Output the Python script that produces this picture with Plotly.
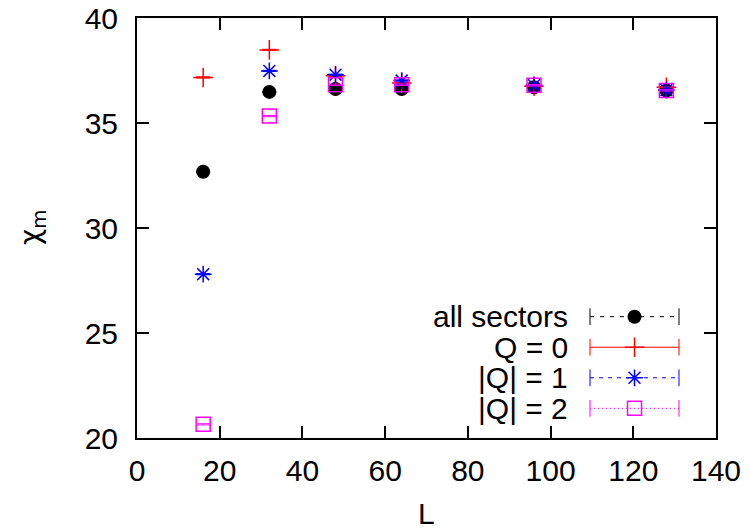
import plotly.graph_objects as go

# ---- data ----
L = [16, 32, 48, 64, 96, 128]
chi_all = [32.68, 36.48, 36.62, 36.62, 36.70, 36.55]
chi_q0 = [37.17, 38.48, 37.25, 36.90, 36.75, 36.70]
chi_q1 = [27.80, 37.48, 37.30, 37.02, 36.80, 36.57]
chi_q2 = [20.65, 35.33, 36.82, 36.82, 36.80, 36.55]
err_all = [0.03, 0.03, 0.03, 0.03, 0.03, 0.03]
err_q0 = [0.03, 0.03, 0.03, 0.03, 0.03, 0.03]
err_q1 = [0.03, 0.03, 0.03, 0.03, 0.03, 0.03]
err_q2 = [0.03, 0.03, 0.03, 0.03, 0.03, 0.03]

names = ["all sectors", "Q = 0", "|Q| = 1", "|Q| = 2"]
colors = ["#000000", "#ff0000", "#0000ff", "#ff00ff"]
symbols = ["circle", "cross-thin-open", "asterisk-open", "square-open"]
dashes = ["4px,6px", "solid", "4px,5px", "1px,3px"]
series = [chi_all, chi_q0, chi_q1, chi_q2]
errors = [err_all, err_q0, err_q1, err_q2]

x_ticks = [0, 20, 40, 60, 80, 100, 120, 140]
y_ticks = [20, 25, 30, 35, 40]

FONT = "Liberation Sans, Arial, sans-serif"
FS = 30

fig = go.Figure()

for i in range(4):
    mk = dict(symbol=symbols[i], size=14, color=colors[i])
    if i > 0:
        mk["line"] = dict(color=colors[i], width=1.5)
    fig.add_trace(go.Scatter(
        x=L, y=series[i], mode="markers", marker=mk, showlegend=False,
        error_y=dict(type="data", array=errors[i], color=colors[i],
                     thickness=1, width=7),
        xaxis="x", yaxis="y"))

# ---- custom key (text left of sample, as in the original) ----
for i in range(4):
    row = 3 - i
    fig.add_trace(go.Scatter(
        x=[0, 0.5, 1], y=[row, row, row], mode="lines",
        line=dict(color=colors[i], width=1, dash=dashes[i]),
        showlegend=False, xaxis="x2", yaxis="y2", cliponaxis=False,
        hoverinfo="skip"))
    fig.add_trace(go.Scatter(
        x=[0, 1], y=[row, row], mode="markers",
        marker=dict(symbol="line-ns-open", size=12, color=colors[i],
                    line=dict(color=colors[i], width=1)),
        showlegend=False, xaxis="x2", yaxis="y2", cliponaxis=False,
        hoverinfo="skip"))
    mk = dict(symbol=symbols[i], size=14, color=colors[i])
    if i > 0:
        mk["line"] = dict(color=colors[i], width=1.5)
    fig.add_trace(go.Scatter(
        x=[0.5], y=[row], mode="markers", marker=mk,
        showlegend=False, xaxis="x2", yaxis="y2", cliponaxis=False,
        hoverinfo="skip"))
    fig.add_annotation(
        text=names[i], xref="paper", yref="y2", x=0.7478, y=row,
        xanchor="right", yanchor="middle", showarrow=False,
        font=dict(family=FONT, size=FS, color="black"))

axis_common = dict(
    showgrid=False, zeroline=False, showline=True, linecolor="black",
    linewidth=2, mirror="ticks", ticks="inside", ticklen=12,
    tickwidth=1.5, tickcolor="black", automargin=False,
    tickfont=dict(family=FONT, size=FS, color="black"))

fig.update_layout(
    width=750, height=530,
    margin=dict(l=137, r=34, t=18, b=92, autoexpand=False),
    paper_bgcolor="white", plot_bgcolor="rgba(0,0,0,0)",
    xaxis=dict(range=[0, 140], tickvals=x_ticks, ticklabelstandoff=5,
               **axis_common),
    yaxis=dict(range=[20, 40], tickvals=y_ticks, ticklabelstandoff=11,
               **axis_common),
    xaxis2=dict(domain=[0.7824, 0.9361], range=[0, 1], anchor="y2",
                visible=False, fixedrange=True, automargin=False),
    yaxis2=dict(domain=[0.0343, 0.3252], range=[-0.5, 3.5], anchor="x2",
                visible=False, fixedrange=True, automargin=False),
)

fig.add_annotation(text="L", xref="paper", yref="paper", x=0.5, y=-0.18,
                   xanchor="center", yanchor="middle", showarrow=False,
                   font=dict(family=FONT, size=FS, color="black"))
fig.add_annotation(text="χ<sub>m</sub>", xref="paper", yref="paper",
                   x=-0.1813, y=0.5, xanchor="center", yanchor="middle",
                   textangle=-90, showarrow=False,
                   font=dict(family="DejaVu Sans, sans-serif", size=28,
                             color="black"))

fig.write_html("out.html")
